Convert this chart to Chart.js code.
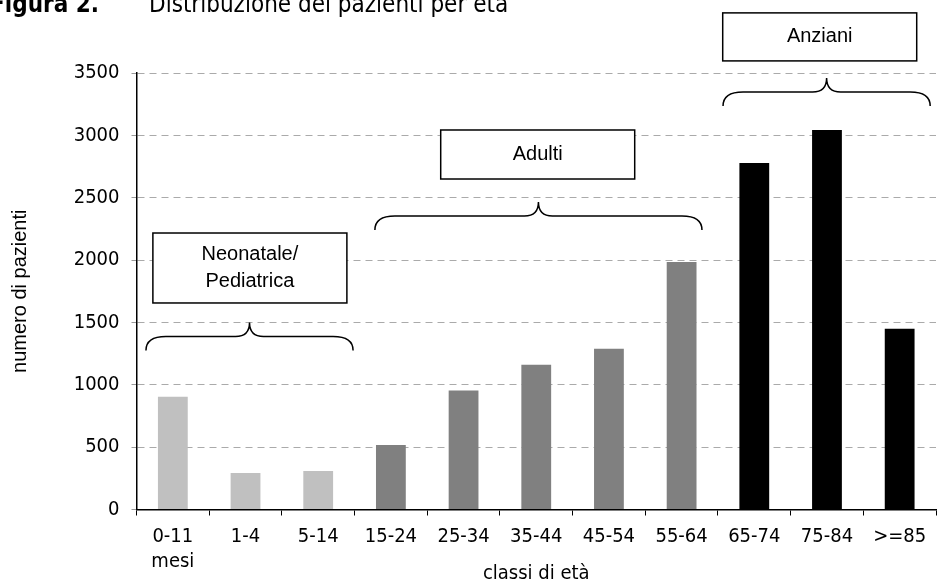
<!DOCTYPE html>
<html>
<head>
<meta charset="utf-8">
<script src="https://cdn.jsdelivr.net/npm/chart.js@4.4.1/dist/chart.umd.min.js"></script>
<style>
  html, body { margin: 0; padding: 0; background: #fff; }
  #wrap { width: 938px; height: 586px; }
</style>
</head>
<body>
<div id="wrap"><canvas id="ages" width="938" height="586"></canvas></div>
<script>
// Figura 2 - pazienti per classe di eta
const ageClasses = [['0-11', 'mesi'], '1-4', '5-14', '15-24', '25-34', '35-44', '45-54', '55-64', '65-74', '75-84', '>=85'];
const patients = [905, 293, 309, 518, 954, 1161, 1289, 1985, 2778, 3043, 1449];
const yTicks = [0, 500, 1000, 1500, 2000, 2500, 3000, 3500];

const groupNames = [['Neonatale/', 'Pediatrica'], ['Adulti'], ['Anziani']];
const groupFirst = [0, 3, 8];
const groupLast = [2, 7, 10];

const groupColors = ['#c0c0c0', '#808080', '#000000'];
const barColors = patients.map((v, i) => {
    const g = groupFirst.findIndex((f, k) => i >= f && i <= groupLast[k]);
    return groupColors[g];
});

// where the boxes and braces sit (category index / axis value)
const groupLayout = [
    { brace: [-0.37, 2.48], braceTop: 1500, boxX: 1.06, boxTop: 2217, boxBottom: 1656 },
    { brace: [2.78, 7.28], braceTop: 2466, boxX: 5.02, boxTop: 3043, boxBottom: 2650 },
    { brace: [7.57, 10.42], braceTop: 3460, boxX: 8.9, boxTop: 3982, boxBottom: 3597 }
];

const tickFont = '"DejaVu Sans Condensed", "DejaVu Sans", sans-serif';

function xAt(scale, idx) {
    // fractional category index to pixel
    const step = scale.getPixelForValue(1) - scale.getPixelForValue(0);
    return scale.getPixelForValue(0) + idx * step;
}

function drawBrace(ctx, xl, xr, yTop) {
    const xc = (xl + xr) / 2;
    const yArm = yTop + 14;
    const yEnd = yArm + 14;
    ctx.beginPath();
    ctx.moveTo(xl, yEnd);
    ctx.quadraticCurveTo(xl, yArm, xl + 20, yArm);
    ctx.lineTo(xc - 14, yArm);
    ctx.quadraticCurveTo(xc, yArm, xc, yTop);
    ctx.quadraticCurveTo(xc, yArm, xc + 14, yArm);
    ctx.lineTo(xr - 20, yArm);
    ctx.quadraticCurveTo(xr, yArm, xr, yEnd);
    ctx.stroke();
}

const groupsPlugin = {
    id: 'groups',
    afterDraw(chart) {
        const ctx = chart.ctx;
        const xs = chart.scales.x;
        const ys = chart.scales.y;
        ctx.save();
        ctx.strokeStyle = '#000';
        ctx.lineWidth = 1.5;
        groupLayout.forEach((g, i) => {
            drawBrace(ctx, xAt(xs, g.brace[0]), xAt(xs, g.brace[1]), ys.getPixelForValue(g.braceTop));

            const cx = xAt(xs, g.boxX);
            const top = ys.getPixelForValue(g.boxTop);
            const bottom = ys.getPixelForValue(g.boxBottom);
            ctx.fillStyle = '#fff';
            ctx.fillRect(cx - 97, top, 194, bottom - top);
            ctx.strokeRect(cx - 97, top, 194, bottom - top);

            ctx.fillStyle = '#000';
            ctx.font = '20px "Liberation Sans", Arial, sans-serif';
            ctx.textAlign = 'center';
            ctx.textBaseline = 'middle';
            const lines = groupNames[i];
            const mid = (top + bottom) / 2;
            lines.forEach((t, k) => {
                ctx.fillText(t, cx, mid + (k - (lines.length - 1) / 2) * 27);
            });
        });
        ctx.restore();
    }
};

const headingPlugin = {
    id: 'heading',
    afterDraw(chart) {
        const ctx = chart.ctx;
        ctx.save();
        ctx.fillStyle = '#000';
        ctx.textBaseline = 'alphabetic';
        ctx.font = 'bold 24px ' + tickFont;
        ctx.textAlign = 'right';
        ctx.fillText('Figura 2.', 99, 12);
        ctx.font = '24px ' + tickFont;
        ctx.textAlign = 'left';
        ctx.fillText('Distribuzione dei pazienti per età', 149, 12);
        ctx.restore();
    }
};

new Chart(document.getElementById('ages').getContext('2d'), {
    type: 'bar',
    data: {
        labels: ageClasses,
        datasets: [{
            data: patients,
            backgroundColor: barColors,
            borderWidth: 0,
            categoryPercentage: 1,
            barPercentage: 0.41
        }]
    },
    options: {
        responsive: false,
        animation: false,
        layout: { padding: { top: 73, right: 2, left: 0, bottom: 0 } },
        plugins: {
            legend: { display: false },
            tooltip: { enabled: false }
        },
        scales: {
            x: {
                afterFit(scale) { scale.height = 76.5; },
                grid: {
                    drawOnChartArea: false,
                    drawTicks: true,
                    tickLength: 6,
                    tickColor: '#000',
                    offset: true
                },
                border: { color: '#000', width: 1.5 },
                ticks: {
                    color: '#000',
                    padding: 9,
                    maxRotation: 0,
                    autoSkip: false,
                    font: { family: tickFont, size: 20, lineHeight: 1.25 }
                },
                title: {
                    display: true,
                    text: 'classi di età',
                    color: '#000',
                    padding: { top: 1, bottom: 0 },
                    font: { family: tickFont, size: 20 }
                }
            },
            y: {
                min: 0,
                max: 3500,
                afterFit(scale) { scale.width = 136.5; },
                afterBuildTicks(scale) { scale.ticks = yTicks.map(v => ({ value: v })); },
                grid: {
                    color: '#aaaaaa',
                    lineWidth: 1,
                    tickLength: 5,
                    tickColor: '#999999'
                },
                border: { color: '#000', width: 1.5, dash: [7, 5] },
                ticks: {
                    color: '#000',
                    padding: 12,
                    callback: v => String(v),
                    font: { family: tickFont, size: 20 }
                },
                title: {
                    display: true,
                    text: 'numero di pazienti',
                    color: '#000',
                    padding: { top: 8, bottom: 0 },
                    font: { family: '"Liberation Sans", Arial, sans-serif', size: 20 }
                }
            }
        }
    },
    plugins: [groupsPlugin, headingPlugin]
});
</script>
</body>
</html>
